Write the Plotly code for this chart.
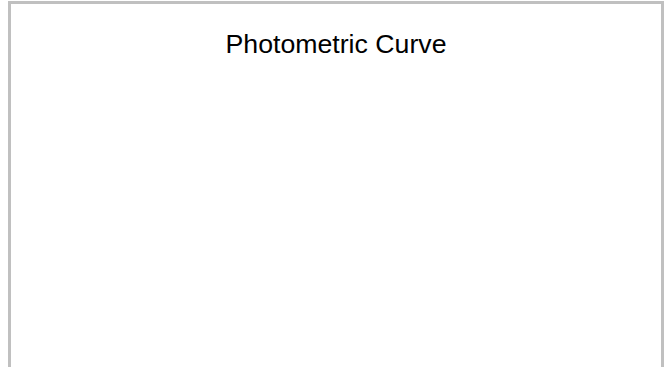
import plotly.graph_objects as go

title_text = "Photometric Curve"
angles = []      # no data points visible in the reference
intensity = []

W, H = 672, 367

fig = go.Figure()
fig.add_trace(go.Scatter(x=angles, y=intensity, mode="lines", showlegend=False))

fig.update_layout(
    width=W, height=H,
    margin=dict(l=0, r=0, t=0, b=0),
    paper_bgcolor="white", plot_bgcolor="white",
    title=dict(text=title_text, x=0.5, xanchor="center", xref="paper",
               y=1 - 43.5 / H, yanchor="middle", yref="container",
               font=dict(family="Arial, Liberation Sans, sans-serif", size=26.7, color="black")),
    xaxis=dict(visible=False, range=[0, 1]),
    yaxis=dict(visible=False, range=[0, 1]),
    shapes=[dict(type="rect", xref="paper", yref="paper",
                 x0=9.5 / W, x1=662.5 / W, y0=-0.5, y1=1 - 2.5 / H,
                 line=dict(color="#c0c0c0", width=3), fillcolor="rgba(0,0,0,0)", layer="above")],
)

fig.write_html(
    "out.html",
    config={"displayModeBar": False},
    post_script="document.body.style.margin='0';document.body.style.overflow='hidden';",
)
